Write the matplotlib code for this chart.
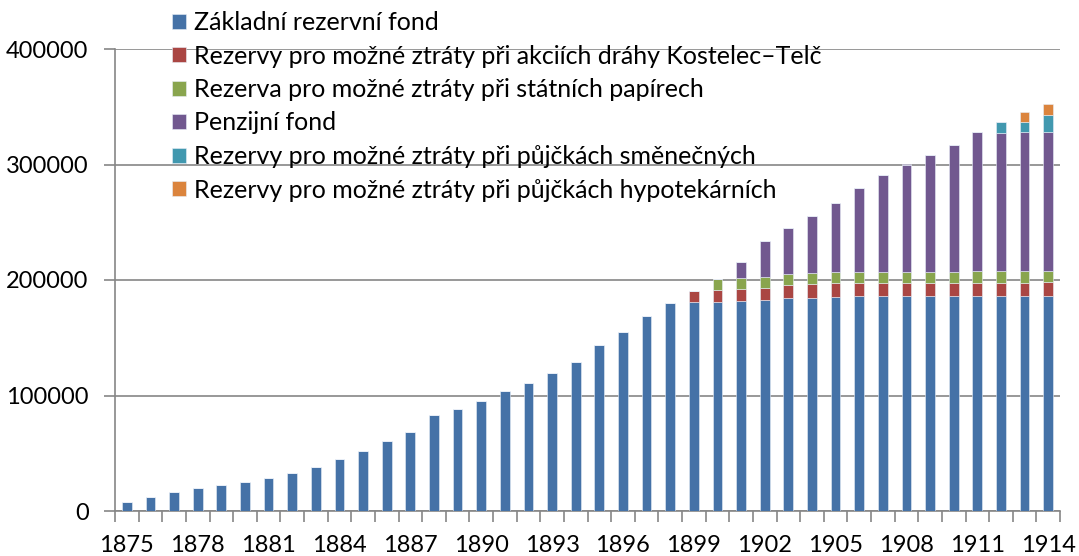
import matplotlib
matplotlib.use("Agg")
import matplotlib.pyplot as plt
import numpy as np

years = list(range(1875, 1915))

zakladni = [7900, 12200, 16600, 19500, 22400, 24700, 28800, 33100, 38100, 44800,
            52000, 60200, 68000, 83100, 88400, 95300, 104300, 110400, 119900, 129100,
            143800, 155000, 168600, 179800, 181000, 181300, 181800, 182700, 184400, 184700,
            185300, 185900, 185900, 185900, 185900, 186200, 186200, 186200, 186200, 186200]
kostelec = [0] * 24 + [9800, 10100, 10100, 10400, 11000, 11800, 11800, 11200, 11200,
                       11200, 11200, 11500, 11500, 11500, 11500, 12400]
statni = [0] * 25 + [9500, 9800, 9800, 9800, 9500, 9800, 9800, 9800, 9800, 10100,
                     9500, 10100, 10100, 10100, 9200]
penzijni = [0] * 26 + [14100, 30500, 40000, 49300, 59700, 72900, 84400, 93100, 100900,
                       109500, 120200, 119900, 120700, 120700]
smenecne = [0] * 37 + [8900, 8400, 14700]
hypotekarni = [0] * 38 + [8900, 8900]

series_names = [
    "Základní rezervní fond",
    "Rezervy pro možné ztráty při akciích dráhy Kostelec–Telč",
    "Rezerva pro možné ztráty při státních papírech",
    "Penzijní fond",
    "Rezervy pro možné ztráty při půjčkách směnečných",
    "Rezervy pro možné ztráty při půjčkách hypotekárních",
]
series = [zakladni, kostelec, statni, penzijni, smenecne, hypotekarni]
colors = ["#4572A7", "#AA4643", "#89A54E", "#71588F", "#4198AF", "#DB843D"]

plt.rcParams['font.family'] = ['Lato', 'DejaVu Sans']

fig = plt.figure(figsize=(10.79, 5.56), dpi=100)
ax = fig.add_axes([115 / 1079, 1 - 511 / 556, 945 / 1079, 462 / 556])

x = np.arange(len(years))
bottom = np.zeros(len(years))
for name, vals, c in zip(series_names, series, colors):
    v = np.array(vals, dtype=float)
    ax.bar(x, v, width=0.41, bottom=bottom, color=c, label=name,
           edgecolor="#e8eef7", linewidth=0.4, zorder=3)
    bottom += v

ax.set_xlim(-0.5, len(years) - 0.5)
ax.set_ylim(0, 400000)
ax.set_yticks([0, 100000, 200000, 300000, 400000])
ax.set_yticklabels(["0", "100000", "200000", "300000", "400000"])
ax.yaxis.grid(True, color="#868686", linewidth=1.2, zorder=0)

major = x[::3]
ax.set_xticks(major)
ax.set_xticklabels([str(years[i]) for i in major])
ax.set_xticks(np.arange(-0.5, len(years), 1.0), minor=True)
ax.tick_params(axis='x', which='major', length=0, pad=17, labelsize=17)
ax.tick_params(axis='x', which='minor', length=8, width=1.2, color="#868686")
ax.tick_params(axis='y', length=8, width=1.2, color="#868686", labelsize=17, pad=11)

for s in ["top", "right"]:
    ax.spines[s].set_visible(False)
for s in ["left", "bottom"]:
    ax.spines[s].set_color("#868686")
    ax.spines[s].set_linewidth(1.2)

leg = fig.legend(loc="upper left", bbox_to_anchor=(172 / 1079, 1 - 11 / 556),
                 frameon=False, fontsize=18, handlelength=0.55, handleheight=0.55,
                 handletextpad=0.35, labelspacing=0.42, borderaxespad=0, borderpad=0)

fig.savefig("out.png", dpi=100)
